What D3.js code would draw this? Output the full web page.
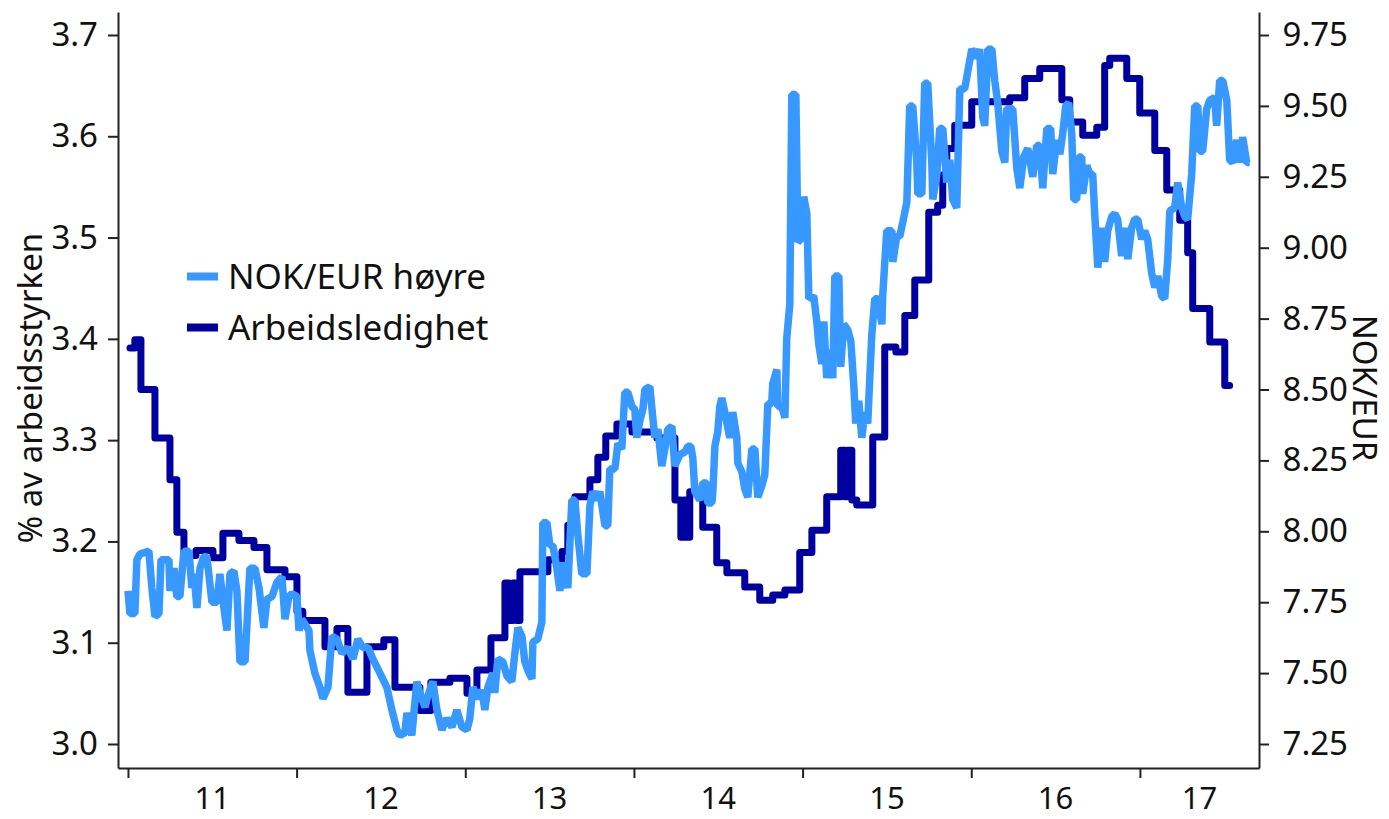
<!DOCTYPE html>
<html lang="no">
<head>
<meta charset="utf-8">
<script src="https://cdn.jsdelivr.net/npm/d3@7.9.0/dist/d3.min.js"></script>
<style>
  html, body { margin: 0; padding: 0; background: #fff; }
  svg { display: block; font-family: "Noto Sans", sans-serif; }
</style>
</head>
<body>
<div id="chart"></div>
<script>
// x-akse: år (desimalår), etiketter midt i hvert år
const years = [2011, 2012, 2013, 2014, 2015, 2016, 2017];
const yearLabels = ["11", "12", "13", "14", "15", "16", "17"];
const leftTicks = [3.0, 3.1, 3.2, 3.3, 3.4, 3.5, 3.6, 3.7];
const rightTicks = [7.25, 7.5, 7.75, 8.0, 8.25, 8.5, 8.75, 9.0, 9.25, 9.5, 9.75];

// Arbeidsledighet, % av arbeidsstyrken (trappelinje: [tid, verdi] ved hver endring)
const ledighet = [
  [2011.012,3.391],[2011.041,3.399],[2011.077,3.350],[2011.160,3.302],[2011.249,3.261],[2011.290,3.209],
  [2011.332,3.186],[2011.403,3.191],[2011.504,3.184],[2011.563,3.208],[2011.658,3.201],[2011.747,3.194],
  [2011.824,3.172],[2011.931,3.165],[2012.002,3.131],[2012.037,3.122],[2012.168,3.096],[2012.239,3.114],
  [2012.304,3.051],[2012.417,3.096],[2012.517,3.103],[2012.583,3.056],[2012.731,3.033],[2012.796,3.061],
  [2012.909,3.065],[2013.010,3.050],[2013.069,3.073],[2013.152,3.105],[2013.235,3.159],[2013.258,3.122],
  [2013.282,3.159],[2013.306,3.122],[2013.324,3.170],[2013.490,3.182],[2013.573,3.190],[2013.608,3.216],
  [2013.650,3.244],[2013.739,3.261],[2013.786,3.283],[2013.833,3.304],[2013.899,3.316],[2013.988,3.308],
  [2014.136,3.302],[2014.243,3.241],[2014.278,3.204],[2014.296,3.241],[2014.314,3.204],[2014.331,3.249],
  [2014.408,3.214],[2014.491,3.179],[2014.551,3.169],[2014.657,3.155],[2014.746,3.142],[2014.823,3.147],
  [2014.895,3.152],[2014.983,3.189],[2015.055,3.211],[2015.143,3.244],[2015.226,3.290],[2015.250,3.244],
  [2015.268,3.290],[2015.292,3.241],[2015.321,3.236],[2015.416,3.303],[2015.487,3.392],[2015.553,3.387],
  [2015.606,3.423],[2015.665,3.458],[2015.748,3.525],[2015.801,3.532],[2015.831,3.562],[2015.855,3.588],
  [2015.902,3.611],[2016.003,3.634],[2016.228,3.638],[2016.317,3.657],[2016.406,3.667],[2016.537,3.636],
  [2016.584,3.614],[2016.661,3.601],[2016.744,3.609],[2016.791,3.670],[2016.821,3.677],[2016.922,3.657],
  [2016.999,3.623],[2017.088,3.586],[2017.159,3.547],[2017.236,3.517],[2017.283,3.485],[2017.313,3.430],
  [2017.414,3.397],[2017.503,3.354],[2017.532,3.354]
];

// NOK/EUR (høyre akse): [tid, kurs]
const kurs = [
  [2011.000,7.79],[2011.012,7.71],[2011.041,7.71],[2011.053,7.90],[2011.071,7.92],[2011.124,7.93],[2011.142,7.80],
  [2011.160,7.70],[2011.184,7.71],[2011.196,7.90],[2011.243,7.90],[2011.249,7.79],[2011.273,7.87],[2011.290,7.77],
  [2011.308,7.77],[2011.332,7.93],[2011.362,7.93],[2011.379,7.80],[2011.391,7.85],[2011.409,7.73],[2011.427,7.87],
  [2011.450,7.91],[2011.468,7.91],[2011.498,7.75],[2011.528,7.75],[2011.545,7.85],[2011.569,7.73],[2011.587,7.65],
  [2011.605,7.85],[2011.628,7.86],[2011.646,7.79],[2011.664,7.54],[2011.694,7.54],[2011.717,7.80],[2011.723,7.87],
  [2011.753,7.87],[2011.777,7.80],[2011.806,7.66],[2011.824,7.76],[2011.854,7.77],[2011.883,7.82],[2011.913,7.84],
  [2011.931,7.69],[2011.954,7.77],[2011.972,7.78],[2012.002,7.77],[2012.014,7.65],[2012.031,7.69],[2012.073,7.65],
  [2012.079,7.58],[2012.108,7.50],[2012.138,7.45],[2012.156,7.41],[2012.186,7.45],[2012.209,7.63],[2012.239,7.62],
  [2012.269,7.57],[2012.304,7.59],[2012.334,7.55],[2012.363,7.62],[2012.393,7.59],[2012.423,7.59],[2012.452,7.55],
  [2012.494,7.50],[2012.535,7.45],[2012.565,7.37],[2012.595,7.30],[2012.612,7.28],[2012.642,7.29],[2012.654,7.36],
  [2012.683,7.28],[2012.713,7.47],[2012.731,7.43],[2012.761,7.38],[2012.778,7.42],[2012.808,7.47],[2012.832,7.37],
  [2012.861,7.30],[2012.891,7.34],[2012.921,7.31],[2012.950,7.37],[2012.980,7.31],[2013.010,7.30],[2013.027,7.34],
  [2013.045,7.45],[2013.075,7.41],[2013.098,7.44],[2013.116,7.37],[2013.134,7.45],[2013.164,7.50],[2013.175,7.43],
  [2013.193,7.55],[2013.223,7.54],[2013.247,7.49],[2013.276,7.47],[2013.294,7.57],[2013.312,7.66],[2013.336,7.63],
  [2013.353,7.54],[2013.371,7.51],[2013.395,7.48],[2013.401,7.61],[2013.430,7.62],[2013.454,7.68],[2013.460,8.03],
  [2013.484,8.03],[2013.502,7.95],[2013.519,7.95],[2013.543,7.87],[2013.561,7.79],[2013.579,7.89],[2013.608,7.80],
  [2013.632,8.11],[2013.650,8.11],[2013.667,7.99],[2013.691,7.85],[2013.721,7.85],[2013.739,8.09],[2013.756,8.14],
  [2013.780,8.11],[2013.798,8.14],[2013.828,8.02],[2013.845,8.02],[2013.857,8.22],[2013.887,8.22],[2013.905,8.31],
  [2013.928,8.29],[2013.946,8.49],[2013.964,8.49],[2013.988,8.44],[2014.005,8.43],[2014.017,8.33],[2014.035,8.39],
  [2014.053,8.43],[2014.065,8.50],[2014.094,8.51],[2014.112,8.40],[2014.124,8.33],[2014.142,8.36],[2014.165,8.23],
  [2014.183,8.29],[2014.201,8.36],[2014.225,8.37],[2014.242,8.23],[2014.272,8.27],[2014.302,8.28],[2014.320,8.30],
  [2014.337,8.30],[2014.349,8.26],[2014.361,8.14],[2014.391,8.11],[2014.408,8.17],[2014.432,8.17],[2014.438,8.10],
  [2014.462,8.10],[2014.468,8.14],[2014.480,8.30],[2014.497,8.35],[2014.509,8.44],[2014.521,8.47],[2014.539,8.42],
  [2014.568,8.33],[2014.586,8.42],[2014.610,8.33],[2014.616,8.24],[2014.640,8.21],[2014.657,8.15],[2014.675,8.12],
  [2014.699,8.29],[2014.717,8.29],[2014.734,8.12],[2014.758,8.16],[2014.776,8.20],[2014.794,8.45],[2014.817,8.45],
  [2014.823,8.52],[2014.847,8.57],[2014.853,8.44],[2014.877,8.44],[2014.895,8.40],[2014.906,8.68],[2014.924,8.80],
  [2014.936,9.54],[2014.960,9.54],[2014.972,9.02],[2014.989,9.03],[2015.007,9.18],[2015.025,9.12],[2015.037,8.82],
  [2015.066,8.83],[2015.084,8.74],[2015.096,8.66],[2015.114,8.59],[2015.126,8.74],[2015.143,8.54],[2015.161,8.64],
  [2015.179,8.54],[2015.191,8.90],[2015.215,8.90],[2015.226,8.58],[2015.244,8.73],[2015.268,8.71],[2015.286,8.67],
  [2015.304,8.51],[2015.315,8.38],[2015.333,8.46],[2015.351,8.33],[2015.369,8.42],[2015.386,8.38],[2015.410,8.69],
  [2015.428,8.82],[2015.446,8.82],[2015.470,8.73],[2015.475,8.83],[2015.499,9.06],[2015.529,9.06],[2015.535,8.95],
  [2015.558,9.04],[2015.576,9.04],[2015.594,9.09],[2015.618,9.16],[2015.635,9.50],[2015.653,9.50],[2015.677,9.30],
  [2015.683,9.19],[2015.707,9.19],[2015.724,9.58],[2015.742,9.58],[2015.766,9.30],[2015.772,9.17],[2015.796,9.26],
  [2015.813,9.42],[2015.831,9.42],[2015.855,9.23],[2015.873,9.31],[2015.890,9.17],[2015.914,9.14],[2015.932,9.56],
  [2015.961,9.56],[2015.979,9.62],[2016.003,9.70],[2016.033,9.67],[2016.050,9.70],[2016.068,9.46],[2016.080,9.43],
  [2016.098,9.70],[2016.122,9.70],[2016.139,9.59],[2016.157,9.51],[2016.181,9.34],[2016.199,9.30],[2016.210,9.49],
  [2016.246,9.49],[2016.270,9.28],[2016.288,9.21],[2016.311,9.32],[2016.335,9.35],[2016.365,9.25],[2016.388,9.36],
  [2016.406,9.36],[2016.424,9.21],[2016.448,9.42],[2016.471,9.42],[2016.483,9.26],[2016.507,9.38],[2016.525,9.33],
  [2016.542,9.40],[2016.560,9.50],[2016.578,9.51],[2016.596,9.40],[2016.608,9.17],[2016.625,9.17],[2016.637,9.32],
  [2016.655,9.32],[2016.661,9.19],[2016.685,9.29],[2016.702,9.26],[2016.720,9.26],[2016.732,9.12],[2016.750,8.93],
  [2016.774,9.07],[2016.791,8.95],[2016.809,9.06],[2016.833,9.11],[2016.851,9.12],[2016.868,9.10],[2016.892,8.97],
  [2016.910,9.07],[2016.928,8.96],[2016.951,9.07],[2016.969,9.10],[2016.987,9.10],[2017.011,9.03],[2017.028,9.06],
  [2017.046,9.03],[2017.070,8.91],[2017.088,8.86],[2017.106,8.90],[2017.129,8.83],[2017.147,8.82],[2017.165,8.96],
  [2017.177,9.13],[2017.206,9.14],[2017.224,9.23],[2017.248,9.14],[2017.266,9.11],[2017.283,9.10],[2017.307,9.26],
  [2017.325,9.50],[2017.343,9.50],[2017.355,9.34],[2017.372,9.34],[2017.396,9.49],[2017.414,9.52],[2017.443,9.53],
  [2017.455,9.43],[2017.473,9.59],[2017.491,9.59],[2017.515,9.52],[2017.532,9.31],[2017.550,9.30],[2017.574,9.38],
  [2017.592,9.30],[2017.609,9.39],[2017.633,9.30],[2017.651,9.30]
];

const series = [
  { name: "NOK/EUR høyre", color: "#3799ff" },
  { name: "Arbeidsledighet", color: "#0000a0" }
];

const width = 1389;
const height = 819;
const plot = { left: 118, right: 1259, top: 12, bottom: 768 };

const svg = d3.select('#chart')
  .append('svg')
  .attr('width', width)
  .attr('height', height)
  .attr('viewBox', `0 0 ${width} ${height}`);

const x = d3.scaleLinear().domain([2010.941, 2017.706]).range([plot.left, plot.right]);
const yLeft = d3.scaleLinear().domain([2.9763, 3.7227]).range([plot.bottom, plot.top]);
const yRight = d3.scaleLinear().domain([7.1654, 9.8311]).range([plot.bottom, plot.top]);

// Linjer: ledighet under, kurs over
const ledighetLine = d3.line()
  .x((d) => x(d[0]))
  .y((d) => yLeft(d[1]))
  .curve(d3.curveStepAfter);

const kursLine = d3.line()
  .x((d) => x(d[0]))
  .y((d) => yRight(d[1]));

svg.append('path')
  .datum(ledighet)
  .attr('d', ledighetLine)
  .attr('fill', 'none')
  .attr('stroke', series[1].color)
  .attr('stroke-width', 7)
  .attr('stroke-linejoin', 'round')
  .attr('stroke-linecap', 'round');

svg.append('path')
  .datum(kurs)
  .attr('d', kursLine)
  .attr('fill', 'none')
  .attr('stroke', series[0].color)
  .attr('stroke-width', 7.5)
  .attr('stroke-linejoin', 'bevel');

// Akser
function styleAxis(g, fontSize) {
  g.attr('font-size', fontSize).attr('font-family', '"Noto Sans", sans-serif');
  g.select('.domain').attr('stroke', '#222').attr('stroke-width', 2);
  g.selectAll('.tick line').attr('stroke', '#222').attr('stroke-width', 2);
  g.selectAll('.tick text').attr('fill', '#111');
}

svg.append('g')
  .attr('transform', `translate(${plot.left},0)`)
  .call(d3.axisLeft(yLeft).tickValues(leftTicks).tickSize(10).tickSizeOuter(0)
    .tickPadding(10).tickFormat(d3.format('.1f')))
  .call((g) => styleAxis(g, 33));

const rightAxis = svg.append('g')
  .attr('transform', `translate(${plot.right},0)`)
  .call(d3.axisRight(yRight).tickValues(rightTicks).tickSize(10).tickSizeOuter(0)
    .tickFormat(d3.format('.2f')))
  .call((g) => styleAxis(g, 33));
rightAxis.selectAll('.tick text').attr('text-anchor', 'end').attr('x', 89);

svg.append('g')
  .attr('transform', `translate(0,${plot.bottom})`)
  .call(d3.axisBottom(x).tickValues(years).tickSize(10).tickSizeOuter(0).tickFormat(''))
  .call((g) => styleAxis(g, 33));

// årsetiketter midt mellom merkene (siste år: midt i den synlige delen)
const xEnd = x.domain()[1];
svg.append('g')
  .selectAll('text')
  .data(years)
  .join('text')
  .attr('x', (d) => x((d + Math.min(d + 1, xEnd)) / 2))
  .attr('y', 809)
  .attr('text-anchor', 'middle')
  .attr('font-size', 31)
  .attr('fill', '#111')
  .text((d, i) => yearLabels[i]);

// Aksetitler
svg.append('text')
  .attr('transform', 'translate(42,388) rotate(-90)')
  .attr('text-anchor', 'middle')
  .attr('font-size', 33)
  .attr('fill', '#111')
  .text('% av arbeidsstyrken');

svg.append('text')
  .attr('transform', 'translate(1353,388) rotate(90)')
  .attr('text-anchor', 'middle')
  .attr('font-size', 33)
  .attr('fill', '#111')
  .text('NOK/EUR');

// Tegnforklaring
const legend = svg.append('g')
  .selectAll('g')
  .data(series)
  .join('g')
  .attr('transform', (d, i) => `translate(187,${276.5 + i * 51})`);

legend.append('line')
  .attr('x1', 0).attr('x2', 31)
  .attr('stroke', (d) => d.color)
  .attr('stroke-width', 8);

legend.append('text')
  .attr('x', 41)
  .attr('y', 12)
  .attr('font-size', 35)
  .attr('fill', '#111')
  .text((d) => d.name);
</script>
</body>
</html>
